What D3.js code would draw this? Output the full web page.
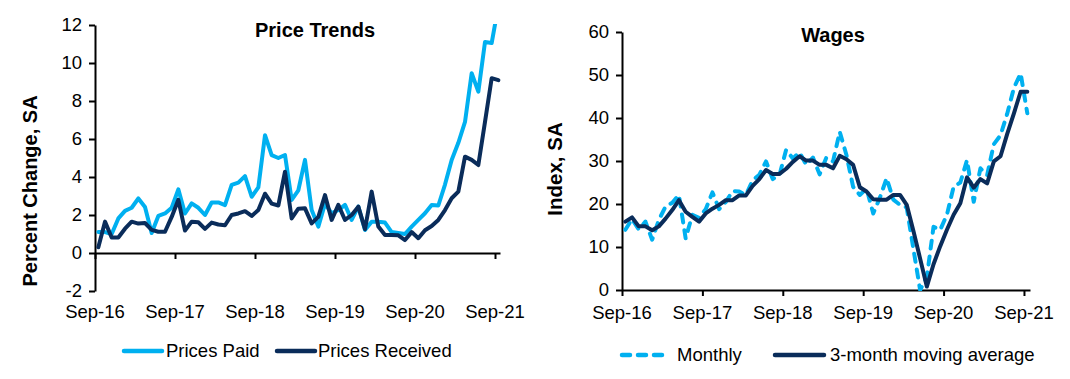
<!DOCTYPE html>
<html>
<head>
<meta charset="utf-8">
<script src="https://cdn.jsdelivr.net/npm/d3@7"></script>
<style>
  html, body { margin: 0; padding: 0; background: #ffffff; }
  svg { display: block; }
  text { font-family: "Liberation Sans", Arial, sans-serif; fill: #000; }
</style>
</head>
<body>
<svg id="chart" width="1070" height="379"></svg>
<script>
// ---------- DATA ----------
const xTickLabels = ["Sep-16", "Sep-17", "Sep-18", "Sep-19", "Sep-20", "Sep-21"];
const xTickMonths = [0, 12, 24, 36, 48, 60];

const leftYTicks = [-2, 0, 2, 4, 6, 8, 10, 12];
const rightYTicks = [0, 10, 20, 30, 40, 50, 60];

// Monthly, Sep-16 .. Sep-21
const pricesPaid = [
  1.1, 1.1, 1.0, 1.82, 2.22, 2.38, 2.87, 2.42, 1.05, 1.95,
  2.08, 2.38, 3.35, 2.08, 2.61, 2.38, 2.0, 2.66, 2.66, 2.52,
  3.58, 3.7, 4.05, 2.96, 3.45, 6.2, 5.15, 5.0, 5.16, 2.79,
  3.3, 4.9, 2.26, 1.39, 2.6, 2.09, 2.26, 2.53, 1.74, 2.44,
  1.21, 1.65, 1.65, 1.6, 1.1, 1.05, 1.0, 1.39, 1.74, 2.09,
  2.53, 2.5, 3.6, 4.9, 5.8, 6.9, 9.46, 8.49, 11.1, 11.05,
  13.0
];
const pricesReceived = [
  0.3, 1.65, 0.82, 0.82, 1.28, 1.65, 1.55, 1.58, 1.22, 1.12,
  1.12, 1.9, 2.8, 1.18, 1.65, 1.62, 1.27, 1.6, 1.5, 1.46,
  2.0, 2.08, 2.2, 1.95, 2.26, 3.12, 2.6, 2.5, 4.28, 1.82,
  2.33, 2.35, 1.56, 1.9, 3.05, 1.74, 2.53, 1.74, 2.0, 2.44,
  1.25, 3.23, 1.39, 0.95, 0.95, 0.93, 0.68, 1.1, 0.78, 1.2,
  1.42, 1.74, 2.26, 2.88, 3.23, 5.07, 4.9, 4.63, 6.9, 9.2,
  9.1
];
const wagesMonthly = [
  14.0, 16.5, 14.1, 15.9, 11.7, 16.3, 19.4, 20.3, 22.1, 12.0,
  17.5, 16.8, 18.8, 22.7, 18.8, 20.5, 23.0, 22.9, 22.1, 25.5,
  26.8, 29.9, 25.8, 26.7, 32.6, 30.6, 32.0, 29.1, 30.8, 26.9,
  30.8, 29.9, 36.8, 31.4, 24.0, 22.1, 23.6, 17.8, 21.5, 26.0,
  21.0, 19.8, 19.2, 9.5, 0.0, 3.0, 14.7, 14.0, 17.5, 24.0,
  25.0, 30.2, 20.5, 28.3, 26.7, 33.9, 36.0, 41.0, 47.0, 50.4,
  41.1
];
const wagesMA = [
  15.9, 16.9, 14.8, 14.8, 13.9, 14.8, 16.6, 18.6, 20.9, 18.2,
  17.0, 15.9, 17.8, 18.9, 19.8, 20.9, 20.9, 22.0, 22.0, 24.2,
  25.8, 27.9, 27.0, 27.0, 28.2, 29.8, 31.1, 30.1, 30.1, 29.1,
  29.1, 28.3, 31.2, 30.4, 29.1, 23.9, 22.9, 21.1, 21.0, 21.0,
  22.1, 22.1, 19.8, 13.7, 7.3, 0.8, 6.0, 10.2, 14.0, 17.5,
  20.2, 26.2, 23.8, 25.8, 24.8, 29.9, 31.1, 36.3, 41.1, 46.1,
  46.1
];

// ---------- STYLE ----------
const LIGHT = "#00B0F0";
const DARK = "#0A2C5A";
const FS = 18.5;
const TFS = 20;

const svg = d3.select("#chart");

function drawPanel(opts) {
  const g = svg.append("g");
  const x = d3.scaleLinear().domain(opts.xDomain).range(opts.xRange);
  const y = d3.scaleLinear().domain(opts.yDomain).range(opts.yRange);

  // clip
  const clipId = opts.id + "-clip";
  svg.append("clipPath").attr("id", clipId).append("rect")
    .attr("x", opts.xRange[0]).attr("y", opts.yRange[1] - 1)
    .attr("width", opts.xRange[1] - opts.xRange[0] + 6)
    .attr("height", opts.yRange[0] - opts.yRange[1] + 2);

  // y axis
  const yAxis = d3.axisLeft(y).tickValues(opts.yTicks).tickSize(6).tickSizeOuter(0).tickPadding(7)
    .tickFormat(d => String(d));
  const ya = g.append("g").attr("transform", `translate(${opts.xRange[0]},0)`).call(yAxis);
  ya.select(".domain").attr("stroke", "#000").attr("stroke-width", 2);
  ya.selectAll(".tick line").attr("stroke", "#000").attr("stroke-width", 2);
  ya.selectAll(".tick text").attr("font-size", FS).attr("font-family", "Liberation Sans, Arial, sans-serif").attr("fill", "#000");

  // x axis (line at baseline value)
  const xAxis = d3.axisBottom(x).tickValues(xTickMonths).tickSize(6).tickSizeOuter(0).tickFormat("");
  const xa = g.append("g").attr("transform", `translate(0,${y(opts.xAxisAt)})`).call(xAxis);
  xa.select(".domain").attr("stroke", "#000").attr("stroke-width", 2);
  xa.selectAll(".tick line").attr("stroke", "#000").attr("stroke-width", 2);

  // x tick labels at bottom
  g.selectAll(".xlab").data(xTickLabels).join("text")
    .attr("class", "xlab")
    .attr("x", (d, i) => x(xTickMonths[i]))
    .attr("y", opts.xLabelY)
    .attr("dy", "0.35em")
    .attr("text-anchor", "middle")
    .attr("font-size", FS)
    .text(d => d);

  // title
  g.append("text").attr("x", opts.titleX).attr("y", opts.titleY).attr("dy", "0.35em")
    .attr("text-anchor", "middle").attr("font-size", TFS).attr("font-weight", "bold").text(opts.title);

  // y title
  g.append("text").attr("transform", `translate(${opts.yTitleX},${opts.yTitleY}) rotate(-90)`)
    .attr("dy", "0.35em").attr("text-anchor", "middle").attr("font-size", opts.yTitleSize).attr("font-weight", "bold")
    .text(opts.yTitle);

  const line = d3.line().x((d, i) => x(i + 0.5)).y(d => y(d));
  const lg = g.append("g").attr("clip-path", `url(#${clipId})`);
  opts.series.forEach(s => {
    lg.append("path").datum(s.values)
      .attr("fill", "none").attr("stroke", s.color).attr("stroke-width", 4)
      .attr("stroke-linejoin", "round").attr("stroke-linecap", "round")
      .attr("stroke-dasharray", s.dash || null)
      .attr("d", line);
  });

  // legend
  opts.legend.forEach(l => {
    g.append("line").attr("x1", l.x1).attr("x2", l.x2).attr("y1", opts.legendY).attr("y2", opts.legendY)
      .attr("stroke", l.color).attr("stroke-width", 4.5).attr("stroke-linecap", "round")
      .attr("stroke-dasharray", l.dash || null);
    g.append("text").attr("x", l.tx).attr("y", opts.legendY).attr("dy", "0.35em")
      .attr("font-size", FS).text(l.label);
  });
}

drawPanel({
  id: "left",
  xDomain: [0, 60.75], xRange: [95, 500],
  yDomain: [-2, 12], yRange: [291, 25],
  yTicks: leftYTicks, xAxisAt: 0, xLabelY: 312,
  title: "Price Trends", titleX: 315, titleY: 30,
  yTitle: "Percent Change, SA", yTitleX: 30, yTitleY: 191, yTitleSize: 20,
  series: [
    { values: pricesPaid, color: LIGHT },
    { values: pricesReceived, color: DARK }
  ],
  legendY: 351,
  legend: [
    { x1: 124, x2: 162, color: LIGHT, tx: 166, label: "Prices Paid" },
    { x1: 277, x2: 315, color: DARK, tx: 318, label: "Prices Received" }
  ]
});

drawPanel({
  id: "right",
  xDomain: [0, 60.9], xRange: [622, 1030],
  yDomain: [0, 60], yRange: [290, 32],
  yTicks: rightYTicks, xAxisAt: 0, xLabelY: 313,
  title: "Wages", titleX: 833, titleY: 35,
  yTitle: "Index, SA", yTitleX: 555, yTitleY: 169, yTitleSize: 20.5,
  series: [
    { values: wagesMonthly, color: LIGHT, dash: "8,8" },
    { values: wagesMA, color: DARK }
  ],
  legendY: 355,
  legend: [
    { x1: 622, x2: 666, color: LIGHT, dash: "8,8", tx: 677, label: "Monthly" },
    { x1: 775, x2: 824, color: DARK, tx: 830, label: "3-month moving average" }
  ]
});
</script>
</body>
</html>
